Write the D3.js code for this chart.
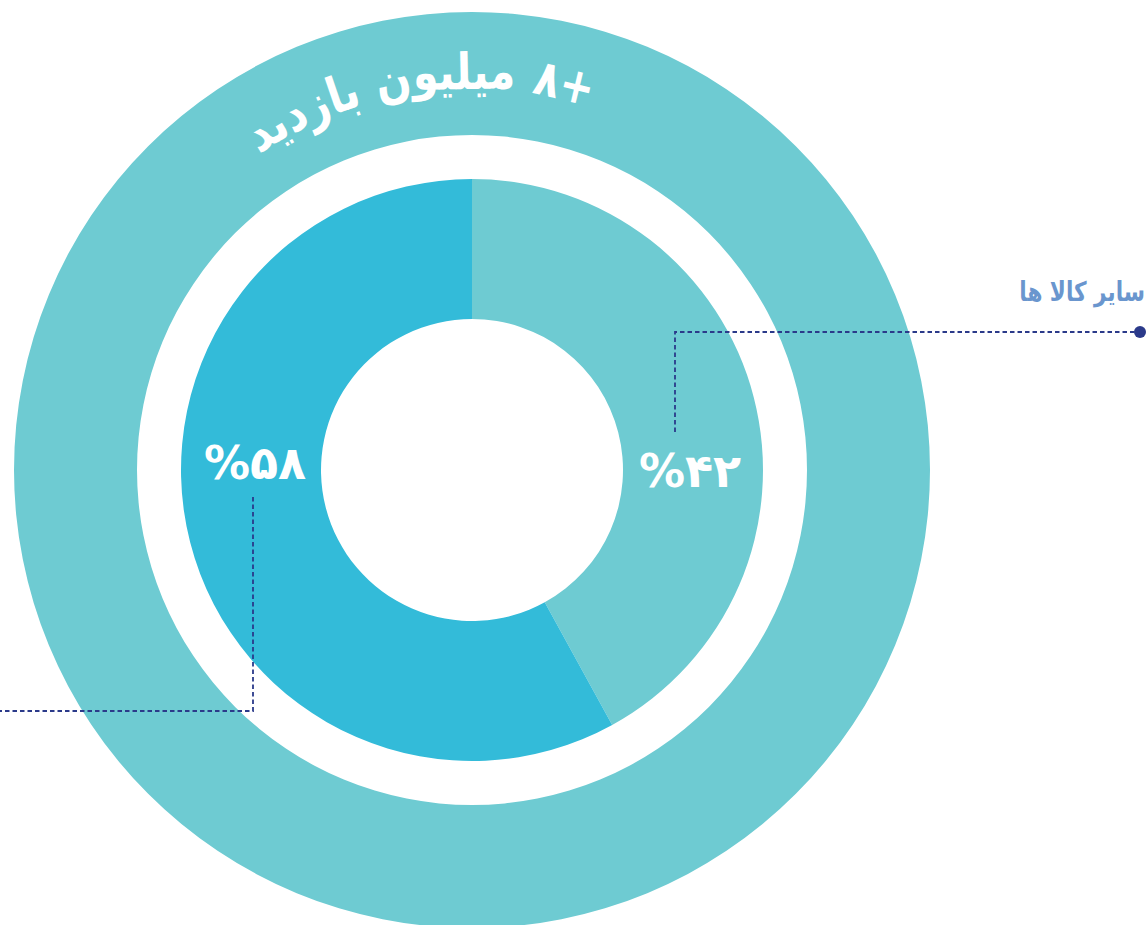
<!DOCTYPE html>
<html>
<head>
<meta charset="utf-8">
<script src="https://cdn.jsdelivr.net/npm/d3@7"></script>
<style>
  html, body { margin: 0; padding: 0; background: #fff; overflow: hidden; }
  svg { display: block; }
  text { font-family: "DejaVu Sans", sans-serif; font-weight: bold; }
</style>
</head>
<body>
<svg id="chart" width="1146" height="925"></svg>
<script>
// Share of visits by category
const categories = ["سایر کالا ها", "کالای اصلی"];
const shares = [42, 58];
const shareLabels = ["%۴۲", "%۵۸"];
const totalLabel = "+۸ میلیون بازدید";

const colors = ["#6ecbd2", "#33bbd9"];
const ringColor = "#6ecbd2";
const leaderColor = "#2b3a8a";

const svg = d3.select("#chart");
const cx = 472, cy = 470;
const g = svg.append("g").attr("transform", `translate(${cx},${cy})`);

// Outer ring carrying the total
const ringInner = 335, ringOuter = 458;
g.append("path")
  .attr("d", d3.arc()({ innerRadius: ringInner, outerRadius: ringOuter, startAngle: 0, endAngle: 2 * Math.PI }))
  .attr("fill", ringColor);

// Curved caption: the phrase is cut after non-joining letters so every piece
// keeps its Arabic shaping, then the pieces are laid right-to-left on the arc.
function splitAtNonJoiners(str) {
  const nonJoin = new Set(["ا", "د", "ذ", "ر", "ز", "ژ", "و", "آ"]);
  const words = str.split(" ");
  const out = [];
  words.forEach((w, wi) => {
    let cur = "";
    for (const ch of w) {
      cur += ch;
      if (nonJoin.has(ch)) { out.push({ t: cur, gapAfter: false }); cur = ""; }
    }
    if (cur) out.push({ t: cur, gapAfter: false });
    out[out.length - 1].gapAfter = wi < words.length - 1;
  });
  return out;
}
const captionR = 381;
const captionFont = 50;
const captionSX = 0.83;        // horizontal condensing of the glyphs
const captionEndDeg = 18;      // right end of the phrase, degrees clockwise from 12 o'clock
const captionG = g.append("g");
const pieces = splitAtNonJoiners(totalLabel);
const probe = captionG.append("text").attr("font-size", captionFont).attr("direction", "rtl");
const spaceW = captionFont * 0.32;
pieces.forEach(p => { probe.text(p.t); p.w = probe.node().getComputedTextLength() * captionSX; });
probe.remove();
let angle = captionEndDeg * Math.PI / 180;
pieces.forEach(p => {
  const mid = angle - (p.w / 2) / captionR;
  captionG.append("text")
    .attr("font-size", captionFont)
    .attr("fill", "#fff")
    .attr("direction", "rtl")
    .attr("text-anchor", "middle")
    .attr("transform", `rotate(${mid * 180 / Math.PI}) translate(0,${-captionR}) scale(${captionSX},1)`)
    .text(p.t);
  angle -= p.w / captionR;
  if (p.gapAfter) angle -= spaceW / captionR;
});

// Inner donut
const pie = d3.pie().sort(null).value(d => d)(shares);
const arc = d3.arc().innerRadius(151).outerRadius(291);
g.selectAll("path.slice")
  .data(pie)
  .join("path")
  .attr("class", "slice")
  .attr("d", arc)
  .attr("fill", (d, i) => colors[i]);

// Percentage labels
g.selectAll("text.pct")
  .data(pie)
  .join("text")
  .attr("class", "pct")
  .attr("x", (d, i) => i === 0 ? 218 : -217)
  .attr("y", (d, i) => i === 0 ? 17 : 9)
  .attr("text-anchor", "middle")
  .attr("font-size", 46)
  .attr("fill", "#fff")
  .attr("direction", "ltr")
  .attr("unicode-bidi", "bidi-override")
  .text((d, i) => shareLabels[i]);

// Leader lines
const line = d3.line();
const leaders = [
  [[675 - cx, 432 - cy], [675 - cx, 332 - cy], [1140 - cx, 332 - cy]],
  [[253 - cx, 497 - cy], [253 - cx, 711 - cy], [-10 - cx, 711 - cy]]
];
leaders.forEach(pts => {
  g.append("path").attr("d", line(pts))
    .attr("stroke", leaderColor).attr("stroke-width", 1.8)
    .attr("stroke-dasharray", "4.5 3").attr("fill", "none");
});
g.append("circle").attr("cx", 1140 - cx).attr("cy", 332 - cy).attr("r", 6).attr("fill", leaderColor);

// Category label (right-to-left, anchored at its right end)
g.append("text")
  .attr("transform", `translate(${1145 - cx},${301 - cy}) scale(0.8,1)`)
  .attr("text-anchor", "start")
  .attr("direction", "rtl")
  .attr("font-size", 27)
  .attr("fill", "#6a96ce")
  .text(categories[0]);
</script>
</body>
</html>
